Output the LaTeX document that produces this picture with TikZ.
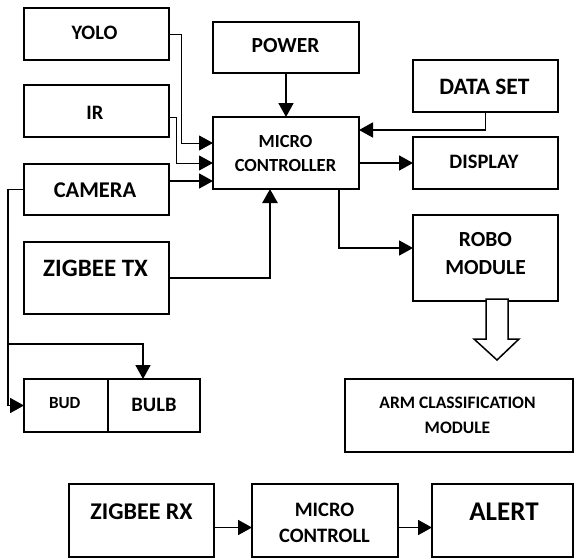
\documentclass[tikz,border=0pt]{standalone}
\usepackage{fontspec}
\setmainfont{Carlito}
\usetikzlibrary{arrows.meta}
\newcommand\fsz[2]{\fontsize{#1}{#2}\selectfont\bfseries}
\newcommand\mybox[5]{\node[box,anchor=north west,minimum width=#4pt,minimum height=#5pt] (#1) at (#2,#3) {};}
\tikzset{
  box/.style={draw,line width=1.5pt,inner sep=0pt,outer sep=0pt},
  txt/.style={inner sep=0pt,align=center},
  arr/.style={-{Triangle[length=14pt,width=15pt]},line width=1.8pt},
  arrthin/.style={-{Triangle[length=14pt,width=15pt]},line width=1pt},
  arrthick/.style={-{Triangle[length=14pt,width=15pt]},line width=2.6pt},
}
\begin{document}
\begin{tikzpicture}[x=1pt,y=-1pt]
\useasboundingbox (0,0) rectangle (574,558);
% boxes
\mybox{yolo}{24}{8}{145}{52}
\mybox{ir}{24}{85}{145}{52}
\mybox{cam}{24}{164}{145}{51}
\mybox{ztx}{24}{242}{145}{72}
\mybox{power}{213}{22}{146}{51}
\mybox{mc}{213}{117}{146}{72}
\mybox{ds}{413}{60}{145}{52}
\mybox{disp}{413}{137}{145}{52}
\mybox{robo}{413}{215}{145}{86}
\mybox{arm}{345}{379}{228}{73}
\mybox{bud}{24}{379}{84}{53}
\mybox{bulb}{108}{379}{92}{53}
\mybox{zrx}{69}{484}{145}{73}
\mybox{mctwo}{252}{484}{146}{73}
\mybox{alert}{432}{484}{141}{73}
% texts
\node[txt,font=\fsz{20.5}{20}] (yolot) at (94.5,32.7) {YOLO};
\node[txt,font=\fsz{20.5}{20}] (irt) at (95,113) {IR};
\node[txt,font=\fsz{22.5}{22}] (camt) at (95,190) {CAMERA};
\node[txt,font=\fsz{25}{24.5}] (ztxt) at (95.6,268.5) {ZIGBEE TX};
\node[txt,font=\fsz{21.5}{21}] (powert) at (285.5,46) {POWER};
\node[txt,font=\fsz{18.5}{24.5}] (mct) at (285.5,153.3) {MICRO\\CONTROLLER};
\node[txt,font=\fsz{23.5}{23}] (dst) at (484.5,87) {DATA SET};
\node[txt,font=\fsz{20.5}{20}] (dispt) at (484,161.7) {DISPLAY};
\node[txt,font=\fsz{21.5}{28}] (robot) at (485.5,253.5) {ROBO\\MODULE};
\node[txt,font=\fsz{17.5}{24.5}] (armt) at (457.5,415.3) {ARM CLASSIFICATION\\MODULE};
\node[txt,font=\fsz{17}{17}] (budt) at (64.7,403.5) {BUD};
\node[txt,font=\fsz{20.5}{20}] (bulbt) at (154,404.5) {BULB};
\node[txt,font=\fsz{24}{23.5}] (zrxt) at (141.5,511.5) {ZIGBEE RX};
\node[txt,font=\fsz{20.5}{26}] (mctwot) at (324.5,523) {MICRO\\CONTROLL};
\node[txt,font=\fsz{27}{26.5}] (alertt) at (504,512) {ALERT};
% connectors
\coordinate (mcinone) at ([yshift=10pt]mc.west);
\coordinate (mcintwo) at ([yshift=-10pt]mc.west);
\coordinate (mcinthree) at ([yshift=-28pt]mc.west);
\draw[arrthin] (yolo.east) -- ++(12,0) |- (mcinone);
\draw[arrthin] ([yshift=-6pt]ir.east) -- ++(7,0) |- (mcintwo);
\draw[arr] (cam.east |- mcinthree) -- (mcinthree);
\draw[arrthick] (ztx.east) -| ([xshift=-16pt]mc.south);
\draw[arr] (power.south) -- (mc.north);
\draw[arr] (ds.south) |- ([yshift=23pt]mc.east);
\draw[arr] (mc.east |- disp.west) -- (disp.west);
\draw[arr] ([xshift=53pt]mc.south) |- ([yshift=10pt]robo.west);
\draw[arr] (cam.west) -- ++(-16,0) |- (bud.west);
\coordinate (br) at (8,344);
\draw[arr] (br) -| ([xshift=-11pt]bulb.north);
\draw[arr] ([yshift=-7pt]zrx.east) -- ([yshift=-7pt]mctwo.west);
\draw[arr] ([yshift=-7pt]mctwo.east) -- ([yshift=-7pt]alert.west);
% hollow arrow
\draw[line width=1.5pt,line join=miter,fill=white] (486,299) -- (486,339) -- (474,339) -- (497,360) -- (519,339) -- (508,339) -- (508,299) -- cycle;
\end{tikzpicture}
\end{document}
